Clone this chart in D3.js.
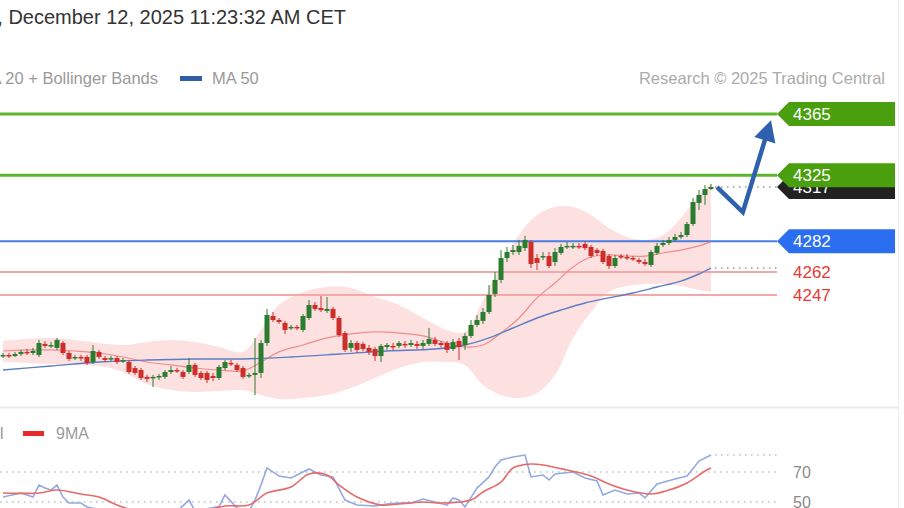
<!DOCTYPE html>
<html>
<head>
<meta charset="UTF-8" />
<title>trading central chart</title>
<script src="https://d3js.org/d3.v7.min.js"></script>
<style>
	body { margin:0; background:#fff; }
	svg { font-family: "Liberation Sans", Arial, sans-serif; }
</style>
</head>
<body>
<svg id="chart" width="904" height="508"></svg>
<script>
// candles, one per bar
const open = [4207.2,4207.9,4207.2,4208.5,4209.9,4209.2,4207.9,4215.1,4213.8,4212.5,
4215.7,4209.2,4205.9,4206.6,4206.6,4203.3,4209.9,4205.9,4205.3,4205.9,
4204.0,4203.3,4199.4,4198.1,4193.6,4192.9,4193.6,4193.6,4196.8,4198.1,
4196.8,4196.8,4201.4,4196.2,4196.2,4194.2,4192.9,4199.4,4202.7,4201.4,
4199.4,4194.2,4194.9,4196.2,4215.7,4233.3,4230.7,4228.8,4225.5,4226.2,
4224.2,4232.0,4240.5,4238.5,4236.6,4237.9,4232.0,4222.2,4212.5,4215.7,
4215.1,4212.5,4211.8,4207.2,4213.1,4213.8,4213.8,4215.1,4214.4,4215.1,
4213.8,4215.1,4217.7,4215.7,4215.7,4211.8,4217.0,4214.4,4220.3,4227.5,
4230.1,4235.9,4247.7,4256.8,4271.1,4275.0,4275.0,4277.6,4281.6,4271.1,
4271.8,4272.4,4268.5,4274.4,4278.3,4278.3,4279.0,4280.3,4278.3,4276.3,
4275.7,4272.4,4265.9,4272.4,4271.8,4271.1,4269.8,4268.5,4266.6,4274.4,
4279.6,4280.9,4282.9,4284.8,4286.1,4293.3,4307.0,4312.2,4316.1]
const close = [4207.9,4207.2,4208.5,4209.9,4209.2,4210.5,4215.7,4213.8,4214.4,4217.7,
4209.2,4205.3,4206.6,4205.9,4202.7,4210.5,4206.6,4204.6,4205.9,4203.3,
4204.6,4196.8,4196.2,4192.9,4192.3,4193.6,4194.2,4196.8,4198.1,4197.5,
4193.6,4201.4,4194.9,4192.9,4191.6,4192.9,4200.1,4203.3,4202.0,4198.1,
4193.6,4194.9,4196.2,4215.7,4234.0,4230.7,4229.4,4224.2,4226.2,4225.5,
4233.3,4240.5,4237.9,4237.2,4237.9,4232.0,4220.9,4211.2,4215.7,4211.2,
4211.8,4209.9,4207.2,4213.8,4214.4,4213.1,4215.7,4214.4,4215.7,4213.8,
4215.7,4218.3,4215.1,4214.4,4211.2,4216.4,4213.1,4220.3,4227.5,4230.7,
4235.9,4247.0,4256.8,4271.1,4275.0,4276.3,4279.0,4282.9,4267.2,4267.9,
4272.4,4265.9,4275.0,4278.3,4279.0,4279.0,4278.3,4277.6,4272.4,4274.4,
4268.5,4265.9,4271.1,4271.8,4271.1,4270.5,4268.5,4267.2,4275.0,4279.0,
4280.9,4282.9,4284.8,4286.1,4293.3,4307.6,4312.2,4316.1,4317.4]
const high = [4209.2,4209.2,4209.9,4211.2,4211.8,4212.5,4217.7,4217.0,4216.4,4219.0,
4217.0,4210.5,4207.9,4207.9,4207.9,4214.4,4211.2,4207.2,4207.2,4207.2,
4205.9,4204.6,4200.7,4199.4,4194.9,4194.9,4195.5,4198.1,4200.7,4199.4,
4198.1,4205.9,4202.7,4197.5,4197.5,4196.2,4201.4,4204.6,4204.6,4202.7,
4200.7,4196.2,4219.0,4217.7,4237.9,4235.9,4232.0,4230.1,4227.5,4227.5,
4234.6,4243.8,4242.4,4246.4,4245.7,4239.2,4233.3,4223.5,4217.7,4217.0,
4216.4,4214.4,4213.1,4215.1,4215.7,4215.7,4217.0,4217.0,4217.7,4217.0,
4217.7,4225.5,4219.6,4217.0,4217.0,4218.3,4219.0,4222.2,4230.7,4234.0,
4238.5,4253.5,4262.0,4276.3,4278.3,4279.6,4282.9,4285.5,4282.9,4273.7,
4275.0,4275.0,4277.6,4280.3,4281.6,4280.9,4280.9,4281.6,4279.6,4277.6,
4277.0,4273.7,4273.1,4273.7,4273.7,4272.4,4271.1,4270.5,4276.3,4280.9,
4282.9,4284.8,4286.8,4288.1,4294.6,4310.2,4315.5,4318.7,4319.4]
const low = [4205.9,4205.9,4206.6,4207.2,4207.9,4207.9,4206.6,4212.5,4212.5,4211.2,
4207.9,4204.0,4204.6,4204.0,4201.4,4202.0,4205.3,4203.3,4204.0,4202.0,
4202.7,4195.5,4194.9,4191.6,4190.3,4187.0,4191.6,4192.3,4195.5,4196.2,
4192.3,4195.5,4193.6,4191.6,4189.6,4190.9,4191.6,4198.1,4200.7,4196.8,
4192.3,4192.9,4181.8,4192.9,4213.8,4229.4,4228.1,4221.6,4224.2,4224.2,
4222.9,4230.7,4236.6,4235.9,4235.3,4230.7,4219.6,4209.9,4209.9,4209.2,
4210.5,4207.9,4204.0,4203.3,4211.2,4211.2,4212.5,4212.5,4213.1,4211.8,
4211.8,4213.8,4213.8,4213.1,4209.2,4210.5,4204.6,4211.2,4219.0,4226.2,
4228.1,4234.6,4245.7,4254.8,4268.5,4273.1,4273.1,4275.7,4264.6,4263.3,
4269.8,4264.6,4265.9,4273.1,4277.0,4277.0,4277.0,4276.3,4271.1,4272.4,
4267.2,4264.0,4264.6,4270.5,4269.8,4269.2,4267.2,4265.9,4265.3,4273.1,
4278.3,4279.6,4281.6,4283.5,4284.8,4292.0,4302.4,4305.7,4315.5]

// MA 20 + Bollinger bands, read at these bars
const bandIdx = [0,4,8,12,16,20,24,28,32,36,40,43,46,50,54,58,62,66,70,74,77,80,83,86,89,92,95,98,101,104,107,110,113,116,118]
const bandUp = [4217.0,4218.3,4219.0,4217.7,4215.7,4214.4,4216.4,4217.7,4216.4,4213.1,4209.9,4224.2,4240.5,4249.0,4252.2,4251.6,4245.7,4240.5,4232.0,4224.2,4222.9,4243.8,4266.6,4286.1,4299.2,4304.4,4304.4,4299.2,4290.7,4284.8,4282.9,4286.1,4297.2,4312.2,4320.0]
const ma20 = [4210.5,4211.2,4211.2,4210.5,4209.2,4206.6,4203.3,4201.4,4199.4,4198.1,4197.5,4203.3,4209.9,4214.4,4219.0,4221.6,4222.9,4222.2,4220.3,4215.7,4213.1,4214.4,4222.2,4232.0,4245.1,4254.8,4265.3,4271.8,4273.1,4272.4,4272.4,4274.4,4276.3,4279.0,4281.6]
const bandLo = [4203.3,4202.7,4202.0,4201.4,4200.7,4196.8,4189.0,4185.1,4183.8,4184.4,4185.1,4181.8,4179.2,4179.9,4181.8,4186.4,4192.9,4199.4,4203.3,4203.3,4201.4,4188.3,4181.8,4179.9,4183.1,4194.9,4219.0,4235.9,4249.0,4252.9,4254.2,4254.2,4252.9,4250.3,4249.0]

// MA 50
const ma50Idx = [0,8,16,24,32,40,48,56,64,72,77,81,85,89,93,97,101,105,109,113,116,118]
const ma50 = [4198.1,4200.7,4203.3,4204.6,4205.3,4205.3,4206.6,4208.5,4210.5,4211.8,4214.4,4219.0,4225.5,4232.0,4237.2,4241.8,4245.1,4248.3,4252.2,4256.1,4260.7,4264.6]

// levels
const levels = [4365, 4325, 4282, 4262, 4247]
const levelType = ["res", "res", "pivot", "sup", "sup"]
const lastPrice = 4317.4

// forecast arrow
const fcIdx = [119, 123.3, 128]
const fcVal = [4317.4, 4301, 4361]

// RSI panel
const rsiIdx = [0,3,5,6,7,8,9,10,11,13,14,16,21,25,28,31,32,36,37,39,41,42,43,44,46,48,51,53,55,57,59,62,64,66,68,70,72,74,75,76,77,79,81,82,83,85,87,88,90,91,92,95,97,99,100,102,104,106,107,109,112,114,116,118]
const rsiVal = [53.3,56,53.3,61.3,59.3,58,61.3,53.3,49.3,49.3,46.7,45,35,33,40,51.3,44,47,54.7,46,44,51.3,61.3,72.7,67.3,66,72,68,66.7,51.3,48,47.3,48.7,49.3,49.3,52,50,48,52.7,51.3,46.7,59.3,66.7,73.3,78,80,81.3,66.7,68,64.7,68.7,70,66,64,54.7,58,55.3,56,52.7,62,65.3,67.3,77.3,81.3]
const rsiMaIdx = [0,6,9,13,16,19,23,28,33,37,41,44,48,51,54,56,59,63,66,70,73,78,80,83,85,88,90,94,98,101,104,108,111,114,117,118]
const rsiMa = [56,56,58,55.3,53.3,48,43,39,43,47.3,48,56,60,68.7,68,61.3,53.3,48,48.7,50,49.3,51.3,56.7,63.3,72.7,75.3,74.7,71.3,67.3,62,58,55.3,58,62.7,70.7,72.7]
const rsiTicks = [70, 50]

// colors
const cUp = "#2a7d2e", cDown = "#cc2f2a"
const levelColor = {res: "#5cb52c", pivot: "#4a7ddf", sup: "#f4a9a9"}
const tagColor = {res: "#4a9f0e", pivot: "#2b6ef0"}

const svg = d3.select("#chart")
const x = d3.scaleLinear().domain([0, 118]).range([3, 711])
const y = d3.scaleLinear().domain([4247, 4365]).range([295, 114])
const yR = d3.scaleLinear().domain([50, 70]).range([502, 472])
const lineEnd = 777

// clips
svg.append("clipPath").attr("id", "mainClip").append("rect")
	.attr("x", 0).attr("y", 90).attr("width", 780).attr("height", 316)
svg.append("clipPath").attr("id", "rsiClip").append("rect")
	.attr("x", 0).attr("y", 409).attr("width", 780).attr("height", 99)

// header
svg.append("text").attr("x", 346).attr("y", 24).attr("text-anchor", "end")
	.style("font-size", "20px").style("fill", "#333")
	.text("Friday, December 12, 2025 11:23:32 AM CET")

const leg = svg.append("g").style("font-size", "16.5px").style("fill", "#9a9a9a")
leg.append("text").attr("x", 158).attr("y", 78).attr("dy", "0.35em").attr("text-anchor", "end").text("MA 20 + Bollinger Bands")
leg.append("rect").attr("x", 180).attr("y", 76).attr("width", 22).attr("height", 5).style("fill", "#2f5da6")
leg.append("text").attr("x", 212).attr("y", 78).attr("dy", "0.35em").text("MA 50")
leg.append("text").attr("x", 885).attr("y", 78).attr("dy", "0.35em").attr("text-anchor", "end")
	.style("fill", "#ababab").text("Research \u00a9 2025 Trading Central")

// frame
svg.append("line").attr("x1", 0).attr("x2", 898).attr("y1", 407.5).attr("y2", 407.5)
	.style("stroke", "#ebebeb").style("stroke-width", 2)
svg.append("line").attr("x1", 898.5).attr("x2", 898.5).attr("y1", 0).attr("y2", 508)
	.style("stroke", "#ececec").style("stroke-width", 1)

const main = svg.append("g").attr("clip-path", "url(#mainClip)")

// bollinger band
const bandData = bandIdx.map((d, k) => ({i: d, up: bandUp[k], lo: bandLo[k], mid: ma20[k]}))
main.append("path").datum(bandData)
	.attr("d", d3.area().x(d => x(d.i)).y0(d => y(d.lo)).y1(d => y(d.up)).curve(d3.curveCatmullRom))
	.style("fill", "#fde0e0")

// level lines
levels.forEach((v, k) => {
	main.append("line").attr("x1", 0).attr("x2", lineEnd).attr("y1", y(v)).attr("y2", y(v))
		.style("stroke", levelColor[levelType[k]])
		.style("stroke-width", levelType[k] == "res" ? 3 : 2)
})

main.append("path").datum(bandData)
	.attr("d", d3.line().x(d => x(d.i)).y(d => y(d.mid)).curve(d3.curveCatmullRom))
	.style("fill", "none").style("stroke", "#f08c8c").style("stroke-width", 1.2)

const ma50Data = ma50Idx.map((d, k) => ({i: d, v: ma50[k]}))
main.append("path").datum(ma50Data)
	.attr("d", d3.line().x(d => x(d.i)).y(d => y(d.v)).curve(d3.curveCatmullRom))
	.style("fill", "none").style("stroke", "#5d7ec4").style("stroke-width", 1.4)

// candles
const candles = close.map((c, i) => ({i: i, o: open[i], h: high[i], l: low[i], c: c}))
const cg = main.selectAll(".candle").data(candles).enter().append("g").attr("class", "candle")
cg.append("line")
	.attr("x1", d => x(d.i)).attr("x2", d => x(d.i))
	.attr("y1", d => y(d.h)).attr("y2", d => y(d.l))
	.style("stroke", d => d.c >= d.o ? cUp : cDown).style("stroke-width", 1)
cg.append("rect")
	.attr("x", d => x(d.i) - 2.5).attr("width", 5)
	.attr("y", d => y(Math.max(d.o, d.c)))
	.attr("height", d => Math.max(1.5, Math.abs(y(d.o) - y(d.c))))
	.style("fill", d => d.c >= d.o ? cUp : cDown)

// dotted lines to the price scale
function dotted(g, x1, yy) {
	g.append("line").attr("x1", x1).attr("x2", lineEnd).attr("y1", yy).attr("y2", yy)
		.style("stroke", "#9a9a9a").style("stroke-width", 1.5).style("stroke-dasharray", "1.5,4.5")
}
dotted(svg, x(118) + 4, y(lastPrice))
dotted(svg, x(118) + 4, y(ma50[ma50.length - 1]))

// tags
function tag(v, fill, label) {
	const yy = y(v)
	const pts = [[lineEnd, yy], [lineEnd + 12, yy - 12], [895, yy - 12], [895, yy + 12], [lineEnd + 12, yy + 12]]
	svg.append("polygon").attr("points", pts.map(p => p.join(",")).join(" ")).style("fill", fill)
	svg.append("text").attr("x", 793).attr("y", yy).attr("dy", "0.36em")
		.style("font-size", "17px").style("fill", "#fff").text(label)
}
tag(lastPrice, "#222", Math.round(lastPrice))
levels.forEach((v, k) => {
	const t = levelType[k]
	if (t == "sup") {
		svg.append("text").attr("x", 793).attr("y", y(v)).attr("dy", "0.36em")
			.style("font-size", "17px").style("fill", "#e53935").text(v)
	} else {
		tag(v, tagColor[t], v)
	}
})

// forecast arrow
const fc = fcIdx.map((d, k) => [x(d), y(fcVal[k])])
const tip = fc[fc.length - 1], prev = fc[fc.length - 2]
const ang = Math.atan2(tip[1] - prev[1], tip[0] - prev[0])
const headLen = 21, headW = 11
const base = [tip[0] - headLen * Math.cos(ang), tip[1] - headLen * Math.sin(ang)]
const shaft = fc.slice(0, -1).concat([[tip[0] - (headLen - 4) * Math.cos(ang), tip[1] - (headLen - 4) * Math.sin(ang)]])
svg.append("path").attr("d", d3.line()(shaft))
	.style("fill", "none").style("stroke", "#2e60ad").style("stroke-width", 4.5)
	.style("stroke-linejoin", "miter")
svg.append("polygon").attr("points", [
	tip,
	[base[0] + headW * Math.sin(ang), base[1] - headW * Math.cos(ang)],
	[base[0] - headW * Math.sin(ang), base[1] + headW * Math.cos(ang)]
].map(p => p.join(",")).join(" ")).style("fill", "#2e60ad")

// RSI panel
const rleg = svg.append("g").style("font-size", "16px").style("fill", "#9a9a9a")
rleg.append("text").attr("x", 4).attr("y", 433).attr("dy", "0.35em").attr("text-anchor", "end").text("RSI")
rleg.append("rect").attr("x", 23).attr("y", 431).attr("width", 21).attr("height", 5).style("fill", "#e62a2a")
rleg.append("text").attr("x", 56).attr("y", 433).attr("dy", "0.35em").text("9MA")

const rsi = svg.append("g").attr("clip-path", "url(#rsiClip)")
rsiTicks.forEach(t => {
	rsi.append("line").attr("x1", 0).attr("x2", lineEnd).attr("y1", yR(t)).attr("y2", yR(t))
		.style("stroke", "#bdbdbd").style("stroke-width", 1.5).style("stroke-dasharray", "1.5,4.5")
	svg.append("text").attr("x", 793).attr("y", yR(t)).attr("dy", "0.36em")
		.style("font-size", "16px").style("fill", "#8a8a8a").text(t)
})
dotted(rsi, x(118) + 4, yR(rsiVal[rsiVal.length - 1]))
rsi.select("line:last-child").style("stroke", "#bdbdbd")

rsi.append("path").datum(rsiIdx.map((d, k) => [x(d), yR(rsiVal[k])]))
	.attr("d", d3.line())
	.style("fill", "none").style("stroke", "#93a9e2").style("stroke-width", 1.6)
rsi.append("path").datum(rsiMaIdx.map((d, k) => [x(d), yR(rsiMa[k])]))
	.attr("d", d3.line().curve(d3.curveCatmullRom))
	.style("fill", "none").style("stroke", "#e56b6b").style("stroke-width", 1.6)
</script>
</body>
</html>
